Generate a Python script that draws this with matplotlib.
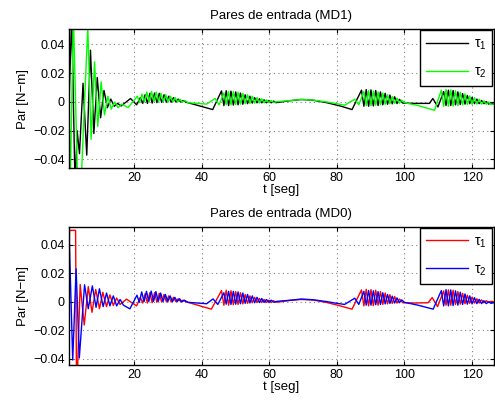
import matplotlib
matplotlib.use("Agg")
import matplotlib.pyplot as plt

plt.rcParams['font.family'] = ['Liberation Sans', 'DejaVu Sans']
plt.rcParams['mathtext.fontset'] = 'custom'
plt.rcParams['mathtext.rm'] = 'Liberation Sans'
plt.rcParams['mathtext.it'] = 'Liberation Sans'

# (t, torque) -- local peaks/troughs of each signal
md1_tau1 = [(0.8, 0.0), (1.6, 0.06), (2.6, -0.06), (3.2, -0.02), (3.9, -0.036), (4.95, 0.013),
            (6.05, -0.037), (7.15, 0.036), (8.15, -0.022), (9.15, 0.017), (10.15, -0.011),
            (11.15, 0.008), (12.15, -0.004), (13.15, 0.002), (14.2, -0.003), (15.2, -0.001),
            (16.2, -0.0028), (19.0, 0.0024), (20.8, -0.002),
            (21.9, 0.003), (22.6, -0.001), (23.3, 0.005), (24.0, -0.001), (24.7, 0.006),
            (25.4, -0.0008), (26.1, 0.0062), (26.8, -0.0005), (27.5, 0.006), (28.2, -0.0003),
            (28.9, 0.005), (29.6, -0.0002), (30.3, 0.004), (31.0, -0.0002), (31.7, 0.003),
            (32.4, 0.0), (33.1, 0.002), (33.8, 0.0), (34.5, 0.001), (35.5, -0.0002), (43.3, -0.0053),
            (45.9, 0.0077), (46.6, -0.0025), (47.3, 0.0078), (48.0, -0.0025), (48.7, 0.0075),
            (49.4, -0.0022), (50.1, 0.007), (50.8, -0.002), (51.5, 0.0062), (52.2, -0.0016),
            (52.9, 0.005), (53.6, -0.0012), (54.3, 0.004), (55.0, -0.0008), (55.7, 0.003),
            (56.4, -0.0006), (57.1, 0.0022), (57.8, -0.0006), (58.5, 0.0015), (59.2, -0.0006),
            (59.9, 0.001), (60.6, -0.0006), (61.3, 0.0006), (62.0, -0.0005), (63.0, -0.0002),
            (66.0, 0.0008), (69.5, 0.0017), (73.0, 0.0012), (77.0, -0.0005), (81.0, -0.0028),
            (84.5, -0.0053),
            (87.3, 0.0082), (88.0, -0.003), (88.7, 0.0086), (89.4, -0.003), (90.1, 0.0084),
            (90.8, -0.0028), (91.5, 0.008), (92.2, -0.0025), (92.9, 0.007), (93.6, -0.002),
            (94.3, 0.006), (95.0, -0.0016), (95.7, 0.0048), (96.4, -0.0013), (97.1, 0.0036),
            (97.8, -0.0011), (98.5, 0.0018), (99.5, -0.0008), (103.0, -0.001), (107.4, -0.001),
            (108.4, 0.0024), (109.9, -0.0035), (111.6, 0.0072), (112.3, -0.0025), (113.0, 0.0082),
            (113.7, -0.0025), (114.4, 0.008), (115.1, -0.002), (115.8, 0.007), (116.5, -0.0018),
            (117.2, 0.0058), (117.9, -0.0015), (118.6, 0.0045), (119.3, -0.0012), (120.0, 0.0032),
            (120.7, -0.0012), (121.4, 0.002), (122.1, -0.0012), (122.8, 0.001), (123.5, -0.0012),
            (124.2, 0.0003), (124.9, -0.0015), (125.6, -0.0005), (126.4, -0.0015)]

md1_tau2 = [(0.8, 0.0), (1.15, -0.06), (2.1, 0.06), (3.4, -0.06), (4.5, -0.05), (6.35, 0.052),
            (7.35, -0.026), (8.35, 0.028), (9.3, -0.017), (10.3, 0.014), (11.3, -0.009),
            (12.3, 0.004), (13.3, -0.005), (14.3, 0.0), (15.3, -0.004), (16.3, -0.0015),
            (18.3, -0.0039),
            (21.0, 0.004), (21.7, -0.0005), (22.4, 0.0055), (23.1, 0.0), (23.8, 0.0068),
            (24.5, 0.0002), (25.2, 0.0072), (25.9, 0.0002), (26.6, 0.0068), (27.3, 0.0002),
            (28.0, 0.006), (28.7, 0.0001), (29.4, 0.005), (30.1, 0.0), (30.8, 0.004), (31.5, 0.0),
            (32.2, 0.003), (32.9, 0.0), (33.6, 0.002), (34.3, -0.0002), (35.0, 0.001),
            (36.0, -0.0005), (41.5, -0.0015), (44.0, 0.0024), (45.2, -0.002),
            (46.6, 0.0062), (47.3, -0.0018), (48.0, 0.0072), (48.7, -0.002), (49.4, 0.0072),
            (50.1, -0.0018), (50.8, 0.0068), (51.5, -0.0015), (52.2, 0.006), (52.9, -0.0012),
            (53.6, 0.005), (54.3, -0.001), (55.0, 0.004), (55.7, -0.0008), (56.4, 0.003),
            (57.1, -0.0007), (57.8, 0.0022), (58.5, -0.0006), (59.2, 0.0015), (59.9, -0.0005),
            (60.6, 0.001), (61.3, -0.0004), (62.3, 0.0002), (66.0, 0.0009), (69.5, 0.0018),
            (73.0, 0.0013), (77.0, 0.0), (80.0, -0.0012), (82.3, -0.0023), (85.3, 0.0019),
            (86.5, -0.002),
            (88.0, 0.0072), (88.7, -0.0025), (89.4, 0.0078), (90.1, -0.0025), (90.8, 0.0076),
            (91.5, -0.0022), (92.2, 0.007), (92.9, -0.002), (93.6, 0.0062), (94.3, -0.0016),
            (95.0, 0.005), (95.7, -0.0013), (96.4, 0.0038), (97.1, -0.001), (97.8, 0.0026),
            (98.5, -0.0008), (99.2, 0.0012), (100.0, -0.0005), (104.0, -0.0025), (108.9, -0.0058),
            (110.9, 0.0082), (111.6, -0.003), (112.3, 0.0086), (113.0, -0.003), (113.7, 0.0084),
            (114.4, -0.0028), (115.1, 0.0078), (115.8, -0.0025), (116.5, 0.0068), (117.2, -0.002),
            (117.9, 0.0056), (118.6, -0.0018), (119.3, 0.0042), (120.0, -0.0016), (120.7, 0.003),
            (121.4, -0.0015), (122.1, 0.0018), (122.8, -0.0015), (123.5, 0.0008), (124.2, -0.0016),
            (124.9, 0.0), (125.6, -0.0018), (126.4, -0.0015)]

md0_tau1 = [(0.8, 0.02), (0.95, 0.05), (2.75, 0.05), (3.0, -0.05), (3.3, -0.05), (4.1, 0.012),
            (5.3, -0.0164), (6.5, 0.0105), (7.6, -0.0075), (8.7, 0.0085), (9.8, -0.005),
            (10.8, 0.0065), (11.9, -0.0035), (12.9, 0.0047), (13.9, -0.0027), (14.9, 0.0025),
            (15.9, -0.002), (17.8, 0.0017), (20.8, -0.003),
            (21.9, 0.003), (22.6, -0.001), (23.3, 0.0055), (24.0, -0.001), (24.7, 0.0062),
            (25.4, -0.0008), (26.1, 0.0062), (26.8, -0.0005), (27.5, 0.0058), (28.2, -0.0003),
            (28.9, 0.005), (29.6, -0.0002), (30.3, 0.004), (31.0, -0.0002), (31.7, 0.003),
            (32.4, 0.0), (33.1, 0.002), (33.8, 0.0), (34.5, 0.001), (35.5, -0.0002), (42.9, -0.0053),
            (45.9, 0.0077), (46.6, -0.0025), (47.3, 0.008), (48.0, -0.0025), (48.7, 0.0076),
            (49.4, -0.0022), (50.1, 0.007), (50.8, -0.002), (51.5, 0.0062), (52.2, -0.0016),
            (52.9, 0.005), (53.6, -0.0012), (54.3, 0.004), (55.0, -0.0008), (55.7, 0.003),
            (56.4, -0.0006), (57.1, 0.0022), (57.8, -0.0006), (58.5, 0.0015), (59.2, -0.0006),
            (59.9, 0.001), (60.6, -0.0006), (61.3, 0.0006), (62.0, -0.0005), (63.0, -0.0002),
            (66.0, 0.0008), (69.5, 0.0015), (73.0, 0.0011), (77.0, -0.0006), (81.0, -0.003),
            (84.5, -0.0053),
            (87.3, 0.0082), (88.0, -0.003), (88.7, 0.0086), (89.4, -0.003), (90.1, 0.0084),
            (90.8, -0.0028), (91.5, 0.008), (92.2, -0.0025), (92.9, 0.007), (93.6, -0.002),
            (94.3, 0.006), (95.0, -0.0016), (95.7, 0.0048), (96.4, -0.0013), (97.1, 0.0036),
            (97.8, -0.0011), (98.5, 0.0018), (99.5, -0.0008), (103.0, -0.001), (107.0, -0.0008),
            (108.2, 0.0028), (109.8, -0.0035), (111.6, 0.0075), (112.3, -0.0025), (113.0, 0.0082),
            (113.7, -0.0025), (114.4, 0.008), (115.1, -0.002), (115.8, 0.007), (116.5, -0.0018),
            (117.2, 0.0058), (117.9, -0.0015), (118.6, 0.0045), (119.3, -0.0012), (120.0, 0.0032),
            (120.7, -0.001), (121.4, 0.002), (122.1, -0.001), (122.8, 0.0012), (123.5, -0.0008),
            (124.2, 0.0006), (124.9, -0.0006), (125.6, 0.0002), (126.4, -0.0002)]

md0_tau2 = [(0.8, 0.05), (1.9, -0.041), (2.9, 0.023), (3.85, -0.0395), (5.4, 0.0118),
            (6.5, -0.005), (7.7, 0.011), (8.8, -0.004), (9.8, 0.009), (10.9, -0.0035),
            (11.9, 0.006), (12.9, -0.003), (13.9, 0.004), (14.9, -0.003), (15.9, 0.0015),
            (16.9, -0.0025), (18.8, -0.0051),
            (20.9, 0.0045), (21.6, -0.0005), (22.3, 0.0068), (23.0, 0.0), (23.7, 0.0072),
            (24.4, 0.0002), (25.1, 0.0074), (25.8, 0.0002), (26.5, 0.007), (27.2, 0.0002),
            (27.9, 0.006), (28.6, 0.0001), (29.3, 0.005), (30.0, 0.0), (30.7, 0.004), (31.4, 0.0),
            (32.1, 0.003), (32.8, 0.0), (33.5, 0.002), (34.2, -0.0002), (34.9, 0.001),
            (36.0, -0.0005), (41.5, -0.0015), (43.4, 0.0019), (44.8, -0.002),
            (46.6, 0.0062), (47.3, -0.0018), (48.0, 0.0072), (48.7, -0.002), (49.4, 0.0072),
            (50.1, -0.0018), (50.8, 0.0068), (51.5, -0.0015), (52.2, 0.006), (52.9, -0.0012),
            (53.6, 0.005), (54.3, -0.001), (55.0, 0.004), (55.7, -0.0008), (56.4, 0.003),
            (57.1, -0.0007), (57.8, 0.0022), (58.5, -0.0006), (59.2, 0.0015), (59.9, -0.0005),
            (60.6, 0.001), (61.3, -0.0004), (62.3, 0.0002), (66.0, 0.0009), (69.5, 0.0018),
            (73.0, 0.0013), (77.0, 0.0), (80.0, -0.0012), (82.3, -0.002), (85.3, 0.0024),
            (86.5, -0.002),
            (88.0, 0.0072), (88.7, -0.0025), (89.4, 0.0078), (90.1, -0.0025), (90.8, 0.0076),
            (91.5, -0.0022), (92.2, 0.007), (92.9, -0.002), (93.6, 0.0062), (94.3, -0.0016),
            (95.0, 0.005), (95.7, -0.0013), (96.4, 0.0038), (97.1, -0.001), (97.8, 0.0026),
            (98.5, -0.0008), (99.2, 0.0012), (100.0, -0.0005), (104.0, -0.0025), (108.5, -0.0053),
            (110.9, 0.0077), (111.6, -0.003), (112.3, 0.0084), (113.0, -0.003), (113.7, 0.0082),
            (114.4, -0.0028), (115.1, 0.0076), (115.8, -0.0025), (116.5, 0.0066), (117.2, -0.002),
            (117.9, 0.0054), (118.6, -0.0018), (119.3, 0.004), (120.0, -0.0016), (120.7, 0.0028),
            (121.4, -0.0014), (122.1, 0.0016), (122.8, -0.0014), (123.5, 0.0006), (124.2, -0.0014),
            (124.9, -0.0002), (125.6, -0.0012), (126.4, -0.0008)]

titles = ["Pares de entrada (MD1)", "Pares de entrada (MD0)"]
xticks = [20, 40, 60, 80, 100, 120]
yticks = [-0.04, -0.02, 0, 0.02, 0.04]
ytick_labels = ["\u22120.04", "\u22120.02", "0", "0.02", "0.04"]

fig = plt.figure(figsize=(4.95, 4.04), dpi=100)
ax1 = fig.add_axes([0.1394, 0.584, 0.858, 0.344])
ax2 = fig.add_axes([0.1394, 0.0965, 0.858, 0.3425])

panels = [
    (ax1, md1_tau1, md1_tau2, 'black', '#00ff00', titles[0], (-0.046, 0.0507)),
    (ax2, md0_tau1, md0_tau2, '#ff0000', '#0000ff', titles[1], (-0.0445, 0.0526)),
]

for ax, s1, s2, c1, c2, title, ylim in panels:
    t1, v1 = zip(*s1)
    t2, v2 = zip(*s2)
    ax.plot(t1, v1, color=c1, lw=1.0, label='\u03c4$_1$')
    ax.plot(t2, v2, color=c2, lw=1.0, label='\u03c4$_2$')
    ax.set_xlim(0.8, 126.4)
    ax.set_ylim(*ylim)
    ax.set_xticks(xticks)
    ax.set_yticks(yticks)
    ax.set_yticklabels(ytick_labels)
    ax.grid(True, color='#808080', linestyle=(0, (1, 3)), lw=0.8)
    ax.tick_params(direction='in', top=True, right=True, length=3, labelsize=9, pad=3)
    for sp in ax.spines.values():
        sp.set_linewidth(1.0)
    ax.set_title(title, fontsize=9.5, pad=7)
    ax.set_xlabel("t [seg]", fontsize=9.5, labelpad=0)
    ax.set_ylabel("Par [N\u2212m]", fontsize=9.5, labelpad=3)
    leg = ax.legend(loc='upper right', fontsize=10, handlelength=3.0, labelspacing=0.9,
                    borderaxespad=0.1, fancybox=False, framealpha=1, edgecolor='black',
                    handletextpad=0.4, borderpad=0.45)
    leg.get_frame().set_linewidth(1.0)

fig.savefig("out.png", dpi=100)
